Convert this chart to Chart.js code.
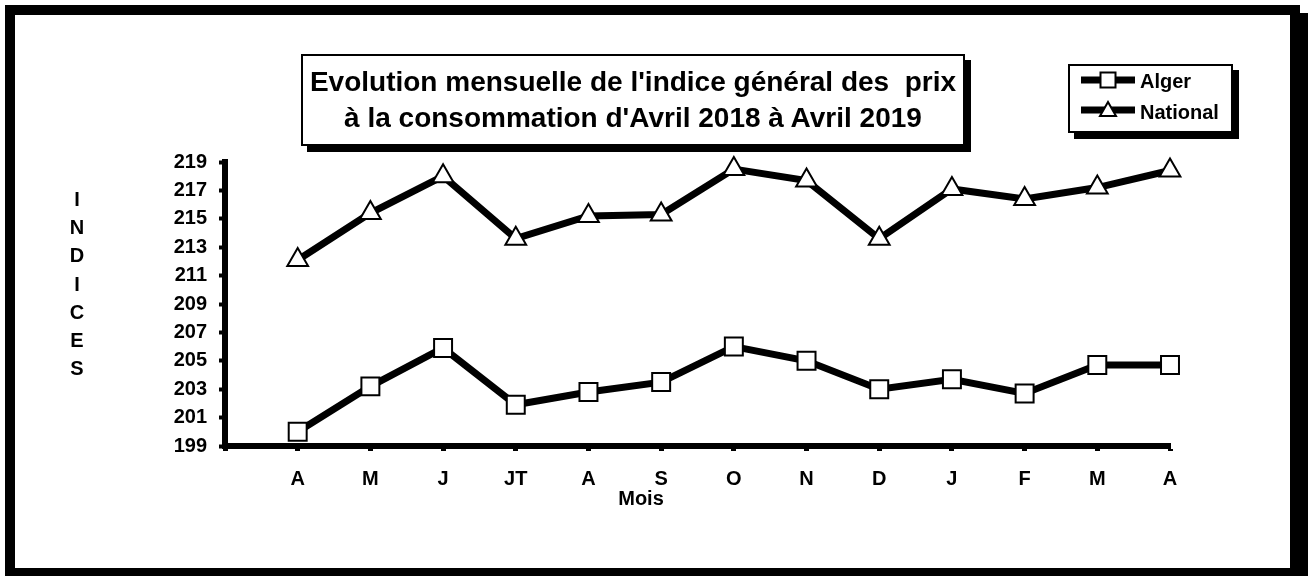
<!DOCTYPE html>
<html>
<head>
<meta charset="utf-8">
<script src="https://cdn.jsdelivr.net/npm/chart.js@4/dist/chart.umd.min.js"></script>
<style>
  body {
    margin: 0;
    width: 1308px;
    height: 576px;
    overflow: hidden;
    position: relative;
    background: #fff;
    color: #000;
    font-family: "Liberation Sans", Arial, sans-serif;
    font-weight: bold;
  }
  .frame {
    position: absolute;
    left: 5px;
    top: 5px;
    width: 1295px;
    height: 573px;
    box-sizing: border-box;
    border: 10px solid #000;
    box-shadow: 8px 8px 0 #000;
    background: #fff;
  }
  #chart {
    position: absolute;
    left: 0;
    top: 0;
  }
  .titlebox {
    position: absolute;
    left: 301px;
    top: 54px;
    width: 664px;
    height: 92px;
    box-sizing: border-box;
    border: 2px solid #000;
    box-shadow: 6px 6px 0 #000;
    background: #fff;
    padding-top: 8px;
    text-align: center;
    font-size: 28px;
    line-height: 36px;
    white-space: pre;
  }
  .legendbox {
    position: absolute;
    left: 1068px;
    top: 64px;
    width: 165px;
    height: 69px;
    box-sizing: border-box;
    border: 2px solid #000;
    box-shadow: 6px 6px 0 #000;
    background: #fff;
  }
  .legendbox svg { position: absolute; left: 11px; }
  .legendbox span {
    position: absolute;
    left: 70px;
    font-size: 20px;
    line-height: 20px;
  }
  .ytitle {
    position: absolute;
    left: 66px;
    top: 185px;
    width: 22px;
    text-align: center;
    font-size: 20px;
    line-height: 28.2px;
  }
  .xtitle {
    position: absolute;
    left: 591px;
    top: 488px;
    width: 100px;
    text-align: center;
    font-size: 20px;
    line-height: 20px;
  }
</style>
</head>
<body>
<div class="frame"></div>
<canvas id="chart" width="1308" height="576"></canvas>

<div class="titlebox">Evolution mensuelle de l'indice général des  prix
à la consommation d'Avril 2018 à Avril 2019</div>

<div class="legendbox">
  <svg width="54" height="20" style="top:4px">
    <line x1="0" y1="10" x2="54" y2="10" stroke="#000" stroke-width="7"/>
    <rect x="19.5" y="2.5" width="15" height="15" fill="#fff" stroke="#000" stroke-width="2"/>
  </svg>
  <span style="top:5px">Alger</span>
  <svg width="54" height="20" style="top:34px">
    <line x1="0" y1="10" x2="54" y2="10" stroke="#000" stroke-width="7"/>
    <polygon points="27,2 35,16 19,16" fill="#fff" stroke="#000" stroke-width="2"/>
  </svg>
  <span style="top:36px">National</span>
</div>

<div class="ytitle">I<br>N<br>D<br>I<br>C<br>E<br>S</div>
<div class="xtitle">Mois</div>

<script>
const MONTHS = ["A", "M", "J", "JT", "A", "S", "O", "N", "D", "J", "F", "M", "A"];
const ALGER = [200.0, 203.2, 205.9, 201.9, 202.8, 203.5, 206.0, 205.0, 203.0, 203.7, 202.7, 204.7, 204.7];
const NATIONAL = [212.1, 215.4, 218.0, 213.6, 215.2, 215.3, 218.5, 217.7, 213.6, 217.1, 216.4, 217.2, 218.4];
const Y_TICKS = [199, 201, 203, 205, 207, 209, 211, 213, 215, 217, 219];

Chart.defaults.font.family = '"Liberation Sans", Arial, sans-serif';
Chart.defaults.font.weight = "bold";
Chart.defaults.font.size = 20;
Chart.defaults.color = "#000";

// months sit at x = 1..13, the axis starts one step before the first month
function toPoints(values) {
  return values.map((v, i) => ({ x: i + 1, y: v }));
}

function lineDataset(label, values, pointStyle, radius) {
  return {
    label: label,
    data: toPoints(values),
    borderColor: "#000",
    borderWidth: 7,
    tension: 0,
    pointStyle: pointStyle,
    pointRadius: radius,
    pointBackgroundColor: "#fff",
    pointBorderColor: "#000",
    pointBorderWidth: 2,
    clip: false,
  };
}

const config = {
  type: "line",
  data: {
    datasets: [
      lineDataset("Alger", ALGER, "rect", 12.7),
      lineDataset("National", NATIONAL, "triangle", 12),
    ],
  },
  options: {
    responsive: false,
    animation: false,
    events: [],
    layout: { padding: { left: 0, top: 162, right: 138, bottom: 0 } },
    plugins: {
      legend: { display: false },
      tooltip: { enabled: false },
    },
    scales: {
      x: {
        type: "linear",
        min: 0,
        max: MONTHS.length,
        afterFit: (s) => { s.height = 130; },
        afterBuildTicks: (s) => {
          const ticks = [{ value: 0 }];
          MONTHS.forEach((m, i) => ticks.push({ value: i + 1 }));
          s.ticks = ticks;
        },
        border: { display: true, color: "#000", width: 6 },
        grid: { drawOnChartArea: false, drawTicks: true, tickLength: 5, tickWidth: 5, tickColor: "#000" },
        ticks: {
          autoSkip: false,
          maxRotation: 0,
          padding: 16,
          callback: (v) => (v >= 1 ? MONTHS[v - 1] : ""),
        },
      },
      y: {
        min: Y_TICKS[0],
        max: Y_TICKS[Y_TICKS.length - 1],
        afterFit: (s) => { s.width = 225; },
        afterBuildTicks: (s) => { s.ticks = Y_TICKS.map((v) => ({ value: v })); },
        border: { display: true, color: "#000", width: 6 },
        grid: { drawOnChartArea: false, drawTicks: true, tickLength: 6, tickWidth: 4, tickColor: "#000" },
        ticks: { padding: 12 },
      },
    },
  },
};

new Chart("chart", config);
</script>
</body>
</html>
